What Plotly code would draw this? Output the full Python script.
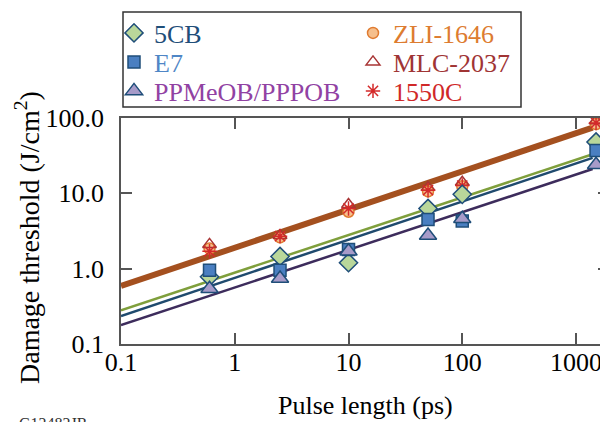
import plotly.graph_objects as go

pulse_ps = [0.6, 2.5, 10, 50, 100, 1500]

series_names = ["5CB", "ZLI-1646", "E7", "MLC-2037", "PPMeOB/PPPOB", "1550C"]
vals_5cb = [0.78, 1.45, 1.2, 6.3, 9.7, 48]
vals_zli = [1.85, 2.6, 5.7, 10.6, 12.4, 83]
vals_e7 = [0.95, 0.95, 1.8, 4.5, 4.3, 37]
vals_mlc = [2.1, 2.75, 7.1, 12, 14, 92]
vals_ppm = [0.54, 0.74, 1.7, 2.75, 4.6, 24]
vals_1550 = [1.7, 2.7, 6.3, 11, 12.7, 86]

fit_x = [0.1, 1400]
fit_brown = [0.59, 74.5]
fit_green = [0.28, 33]
fit_blue = [0.235, 29.6]
fit_purple = [0.178, 21]

x_tickvals = [0.1, 1, 10, 100, 1000]
x_ticktext = ["0.1", "1", "10", "100", "1000"]
y_tickvals = [0.1, 1, 10, 100]
y_ticktext = ["0.1", "1.0", "10.0", "100.0"]

FONT = "Liberation Serif, DejaVu Serif, serif"
EDGE = "#1f4e79"

# The page body adds an 8px offset; work in window pixels and convert.
OFF = 8
W, H = 608, 422
ML, MT = 121 - OFF, 118 - OFF
MR = W - (609 - OFF)
MB = H - (344 - OFF)
PW, PH = W - ML - MR, H - MT - MB


def wx(px):  # window px -> paper x
    return (px - OFF - ML) / PW


def wy(py):  # window px -> paper y
    return (H - MB - (py - OFF)) / PH


def cx(px):  # window px -> container x
    return (px - OFF) / W


def cy(py):  # window px -> container y
    return 1 - (py - OFF) / H


fig = go.Figure()

for ys, col, w in [(fit_brown, "#a4501f", 6), (fit_green, "#7f9f3c", 2.5),
                   (fit_blue, "#1f4a6e", 2.5), (fit_purple, "#3d2c5c", 2.5)]:
    fig.add_trace(go.Scatter(x=fit_x, y=ys, mode="lines", showlegend=False,
                             line=dict(color=col, width=w), hoverinfo="skip"))

styles = {
    "5CB": (vals_5cb, dict(symbol="diamond", size=14, color="#b9d79a", line=dict(color=EDGE, width=1.5)), "#1f4e79"),
    "ZLI-1646": (vals_zli, dict(symbol="circle", size=11, color="#f6bf8c", line=dict(color="#e07b30", width=1.5)), "#dd7c30"),
    "E7": (vals_e7, dict(symbol="square", size=12, color="#4a7fc1", line=dict(color=EDGE, width=1.5)), "#4f86c6"),
    "MLC-2037": (vals_mlc, dict(symbol="triangle-up-open", size=12, color="#a83434", line=dict(color="#a83434", width=1.5)), "#a03434"),
    "PPMeOB/PPPOB": (vals_ppm, dict(symbol="triangle-up", size=15, color="#a79bc9", line=dict(color=EDGE, width=1.5)), "#9142a3"),
    "1550C": (vals_1550, dict(symbol="asterisk-open", size=12, color="#d42a2a", line=dict(color="#d42a2a", width=1.5)), "#d02828"),
}

# legend slot (window px): name -> (legend id, left x, row centre y)
legend_slots = {
    "5CB": ("legend", 114, 33),
    "E7": ("legend2", 114, 62),
    "PPMeOB/PPPOB": ("legend3", 114, 91),
    "ZLI-1646": ("legend4", 353, 33),
    "MLC-2037": ("legend5", 353, 62),
    "1550C": ("legend6", 353, 91),
}

draw_order = ["ZLI-1646", "MLC-2037", "1550C", "5CB", "E7", "PPMeOB/PPPOB"]
for name in draw_order:
    vals, marker, tcol = styles[name]
    fig.add_trace(go.Scatter(
        x=pulse_ps, y=vals, mode="markers", marker=marker,
        name=f"<span style='color:{tcol}'>{name}</span>",
        legend=legend_slots[name][0],
    ))

axis_common = dict(
    type="log", showgrid=False, zeroline=False,
    showline=True, linecolor="#555555", linewidth=1.5, mirror="ticks",
    ticks="inside", ticklen=11, tickwidth=1.5, tickcolor="#555555",
    tickfont=dict(family=FONT, size=26, color="black"),
)

legend_common = dict(
    orientation="v", xref="container", yref="container",
    xanchor="left", yanchor="middle",
    borderwidth=0, bgcolor="rgba(0,0,0,0)",
    font=dict(family=FONT, size=26),
    itemwidth=30,
)

legends = {}
for name, (lid, lx, ly) in legend_slots.items():
    legends[lid] = dict(legend_common, x=cx(lx), y=cy(ly))

fig.update_layout(
    width=W, height=H,
    margin=dict(l=ML, r=MR, t=MT, b=MB, autoexpand=False),
    paper_bgcolor="white", plot_bgcolor="white",
    font=dict(family=FONT, color="black"),
    xaxis=dict(axis_common, range=[-1, 3.29], tickvals=x_tickvals, ticktext=x_ticktext,
               ticklabelstandoff=-6),
    yaxis=dict(axis_common, range=[-1, 2], tickvals=y_tickvals, ticktext=y_ticktext,
               ticklabelstandoff=10),
    showlegend=True,
    **legends,
)

fig.add_shape(type="rect", xref="paper", yref="paper",
              x0=wx(123), x1=wx(521), y0=wy(107), y1=wy(12),
              line=dict(color="#333333", width=1.5), fillcolor="rgba(0,0,0,0)", layer="above")

fig.add_annotation(text="Pulse length (ps)", xref="paper", yref="paper",
                   x=wx(365), y=wy(405), xanchor="center", yanchor="middle",
                   showarrow=False, font=dict(family=FONT, size=26, color="black"))
fig.add_annotation(text="Damage threshold (J/cm<sup>2</sup>)", xref="paper", yref="paper",
                   x=wx(27), y=wy(238), xanchor="center", yanchor="middle",
                   textangle=-90, showarrow=False, font=dict(family=FONT, size=28, color="black"))

fig.add_annotation(text="G12482JR", xref="paper", yref="paper",
                   x=wx(17), y=wy(413), xanchor="left", yanchor="top",
                   showarrow=False, font=dict(family=FONT, size=16, color="#333333"))

fig.write_html("out.html")
